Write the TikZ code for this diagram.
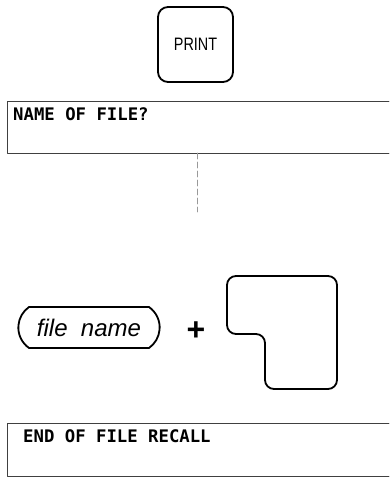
\documentclass[tikz,border=0pt]{standalone}
\usepackage{fontspec}
\newfontfamily\dispfont{DejaVu Sans Mono}
\newfontfamily\keyfont{Liberation Sans}
\newfontfamily\keynarrow[FakeStretch=0.8]{Liberation Sans}
\usetikzlibrary{shapes.misc}

\begin{document}
\begin{tikzpicture}[
  x=1pt, y=-1pt,
  line cap=round,
  line join=round,
  keyline/.style={line width=1.8pt},
  panel/.style={line width=0.9pt, black!75},
  disptext/.style={anchor=base west, inner sep=0pt,
    font=\dispfont\bfseries\fontsize{17.3}{20}\selectfont}
]
  \useasboundingbox (0,0) rectangle (389,480);

  % Клавиша PRINT
  \node[keyline, draw, rounded corners=10pt,
        minimum width=75pt, minimum height=75pt,
        font=\keynarrow\fontsize{18}{20}\selectfont]
    (print) at (195.5,44.5) {PRINT};

  % Панель с запросом имени файла
  % правый край панели открыт
  \coordinate (NT) at (389,101);
  \coordinate (NB) at (7,153);
  \draw[panel] (NT) -| (NB) -- (389,153);
  \node[disptext] (namefile) at (13,120) {NAME OF FILE?};

  % Пунктирная вставка под панелью
  \coordinate (S1) at (197,153);
  \coordinate (S2) at (197,212);
  \draw[panel, black!40, dash pattern=on 6pt off 3pt] (S1) -- (S2);

  % Ввод имени файла
  \node[keyline, draw, rounded rectangle,
        rounded rectangle arc length=110,
        minimum width=148pt, minimum height=41pt,
        font=\keyfont\itshape\fontsize{24}{26}\selectfont]
    (fname) at (89,327.5) {file\ \ name};

  \node[font=\keyfont\bfseries\fontsize{32}{32}\selectfont]
    (plus) at (196,331) {+};

  % Клавиша ввода (Г-образная)
  \coordinate (E1) at (227,276);
  \coordinate (E2) at (337,276);
  \coordinate (E3) at (337,389);
  \coordinate (E4) at (265,389);
  \coordinate (E5) at (265,334);
  \coordinate (E6) at (227,334);
  \draw[keyline, rounded corners=9pt]
    (E1)--(E2)--(E3)--(E4)--(E5)--(E6)--cycle;

  % Панель с сообщением
  \coordinate (RT) at (389,423);
  \coordinate (RB) at (7,476);
  \draw[panel] (RT) -| (RB) -- (389,476);
  \node[disptext] (endrecall) at (23,442) {END OF FILE RECALL};
\end{tikzpicture}
\end{document}
